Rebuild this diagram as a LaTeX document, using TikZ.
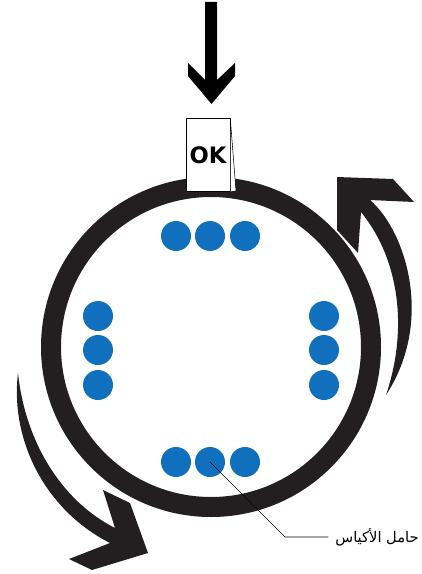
\documentclass[tikz,border=0pt]{standalone}
\usepackage{fontspec}
\usetikzlibrary{positioning}
\TeXXeTstate=1
\newfontfamily\okfont{DejaVu Sans}
\newfontfamily\arabicfont[Script=Arabic]{DejaVu Sans}
\definecolor{bagblue}{RGB}{16,112,190}
\definecolor{ringblack}{RGB}{35,31,32}

\begin{document}
\begin{tikzpicture}[x=0.75pt, y=-0.75pt,
  ring/.style={draw=ringblack, line width=15pt, circle, minimum size=240pt, inner sep=0pt},
  bag/.style={circle, fill=bagblue, minimum size=22.5pt, inner sep=0pt},
  tag/.style={draw, thin, fill=white, minimum width=33pt, minimum height=55pt, inner sep=0pt, font=\okfont\bfseries\fontsize{17}{17}\selectfont},
  turn/.style={fill=ringblack}]
\useasboundingbox (0,0) rectangle (421,574);
\node[ring] (ring) at (211,347) {};
\foreach \i/\x in {1/176,2/210,3/245} {
  \node[bag] (t\i) at (\x,236) {};
  \node[bag] (b\i) at (\x,462) {};
}
\foreach \i/\y in {1/316,2/350,3/385} {
  \node[bag] (l\i) at (98,\y) {};
  \node[bag] (r\i) at (324,\y) {};
}
\fill (205,2) -- (217,2) -- (217,80) -- (235,63) -- (235,76) -- (211.5,104) -- (188,76) -- (188,63) -- (205,80) -- cycle;
\node[tag] (tag) at (208,155) {\raisebox{-1pt}{OK}};
\draw[thin, fill=white] (tag.north east) -- (236,191) -- (tag.south east) -- cycle;
\fill[turn] (337,177) -- (393,179) -- (414,202) -- (370,200) .. controls (405,230) and (435,320) .. (386,395) .. controls (408,330) and (400,260) .. (361,212) -- (358,253) -- (337,230) -- cycle;
\fill[turn] (148,553) -- (130,503) -- (103,490) -- (115,528) .. controls (60,500) and (25,440) .. (18,373) .. controls (10,440) and (45,510) .. (110,543) -- (69,559) -- (92,570) -- cycle;
\node[anchor=east, inner sep=0pt, font=\fontsize{11}{13}\selectfont] (lbl) at (419,537) {\arabicfont\beginR حامل الأكياس\endR};
\coordinate (bend) at (285,537);
\draw[line width=0.5pt] (b2.center) -- (bend) -- ([xshift=-5pt]lbl.west);
\end{tikzpicture}
\end{document}
